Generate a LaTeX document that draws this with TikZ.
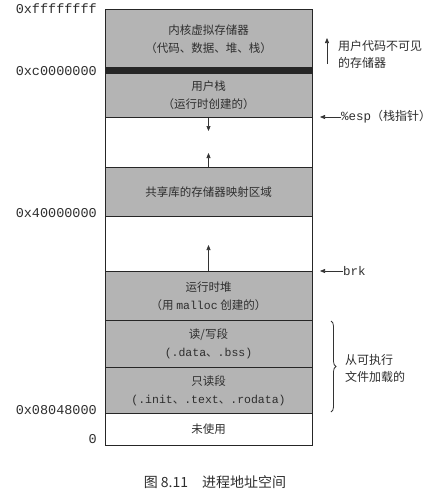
\documentclass[tikz,border=0pt]{standalone}
\usepackage{fontspec}
\setmainfont{Noto Sans CJK SC}
\newfontfamily\cjk{Noto Sans CJK SC}
\setmonofont{Liberation Mono}
\usetikzlibrary{arrows.meta,decorations.pathreplacing}
\definecolor{regfill}{HTML}{B4B4B4}
\definecolor{txt}{HTML}{2E2E2E}
\newcommand{\dun}{{\cjk 、}}
\begin{document}
\begin{tikzpicture}[x=1pt,y=-1pt,
  region/.style={draw=black!85, line width=0.9pt, minimum width=207pt, inner sep=0pt, anchor=north, text=txt, font=\fontsize{11.5}{18}\selectfont, align=center},
  grayreg/.style={region, fill=regfill},
  whitereg/.style={region, fill=white},
  addr/.style={anchor=east, inner sep=0pt, text=txt, font=\fontsize{13.5}{14}\ttfamily},
  note/.style={anchor=west, inner sep=0pt, text=txt, font=\fontsize{12}{17}\selectfont, align=left},
  growarrow/.style={draw=black!80, line width=0.7pt, -{Triangle[length=5pt,width=4pt]}}
]
\useasboundingbox (0,0) rectangle (434,498);
% regions
\node[grayreg, minimum height=58pt, text depth=-3pt] (kernel) at (208.5,9) {内核虚拟存储器\\（代码、数据、堆、栈）};
\node[region, fill=black!85, minimum height=6pt] (band) at (208.5,67) {};
\node[grayreg, minimum height=44pt] (ustack) at (208.5,73) {用户栈\\（运行时创建的）};
\node[whitereg, minimum height=50pt] (gap1) at (208.5,117) {};
\node[grayreg, minimum height=49pt] (shared) at (208.5,167) {共享库的存储器映射区域};
\node[whitereg, minimum height=55pt] (gap2) at (208.5,216) {};
\node[grayreg, minimum height=49pt] (heap) at (208.5,271) {运行时堆\\（用 {\ttfamily malloc} 创建的）};
\node[grayreg, minimum height=47pt] (rw) at (208.5,320) {读/写段\\{\ttfamily (.data\dun.bss)}};
\node[grayreg, minimum height=46pt] (ro) at (208.5,367) {只读段\\{\ttfamily (.init\dun.text\dun.rodata)}};
\node[whitereg, minimum height=32pt] (unused) at (208.5,413) {未使用};
% growth arrows
\coordinate (downtip) at (208.5,131);
\coordinate (uptip1) at (208.5,153);
\coordinate (uptip2) at (208.5,245);
\draw[growarrow] (ustack.south) -- (downtip);
\draw[growarrow] (shared.north) -- (uptip1);
\draw[growarrow] (heap.north) -- (uptip2);
% addresses
\node[addr] (a1) at (97,9) {0xffffffff};
\node[addr] (a2) at (97,71) {0xc0000000};
\node[addr] (a3) at (97,213) {0x40000000};
\node[addr] (a4) at (97,410) {0x08048000};
\node[addr] (a5) at (97,439) {0};
% right notes
\coordinate (invbot) at (327,64);
\coordinate (invtop) at (327,38);
\draw[growarrow] (invbot) -- (invtop);
\node[note] (inv) at (338,54) {用户代码不可见\\的存储器};
\node[note] (esp) at (341,117) {{\ttfamily\fontsize{12.5}{14}\selectfont \%esp}（栈指针）};
\coordinate (esptip) at (320,117);
\draw[growarrow] (esp.west) -- (esptip);
\node[note] (brk) at (343,271) {{\ttfamily\fontsize{12.5}{14}\selectfont brk}};
\coordinate (brktip) at (320,271);
\draw[growarrow] (brk.west) -- (brktip);
\coordinate (bt) at (331,321);
\coordinate (bb) at (331,412);
\draw[line width=0.8pt, black!80, decoration={brace, amplitude=5pt}, decorate] (bt) -- (bb);
\node[note] (load) at (345,368) {从可执行\\文件加载的};
% caption
\node[inner sep=0pt, text=txt, font=\fontsize{14}{16}\selectfont] (cap) at (215,482) {图 8.11\quad 进程地址空间};
\end{tikzpicture}
\end{document}
